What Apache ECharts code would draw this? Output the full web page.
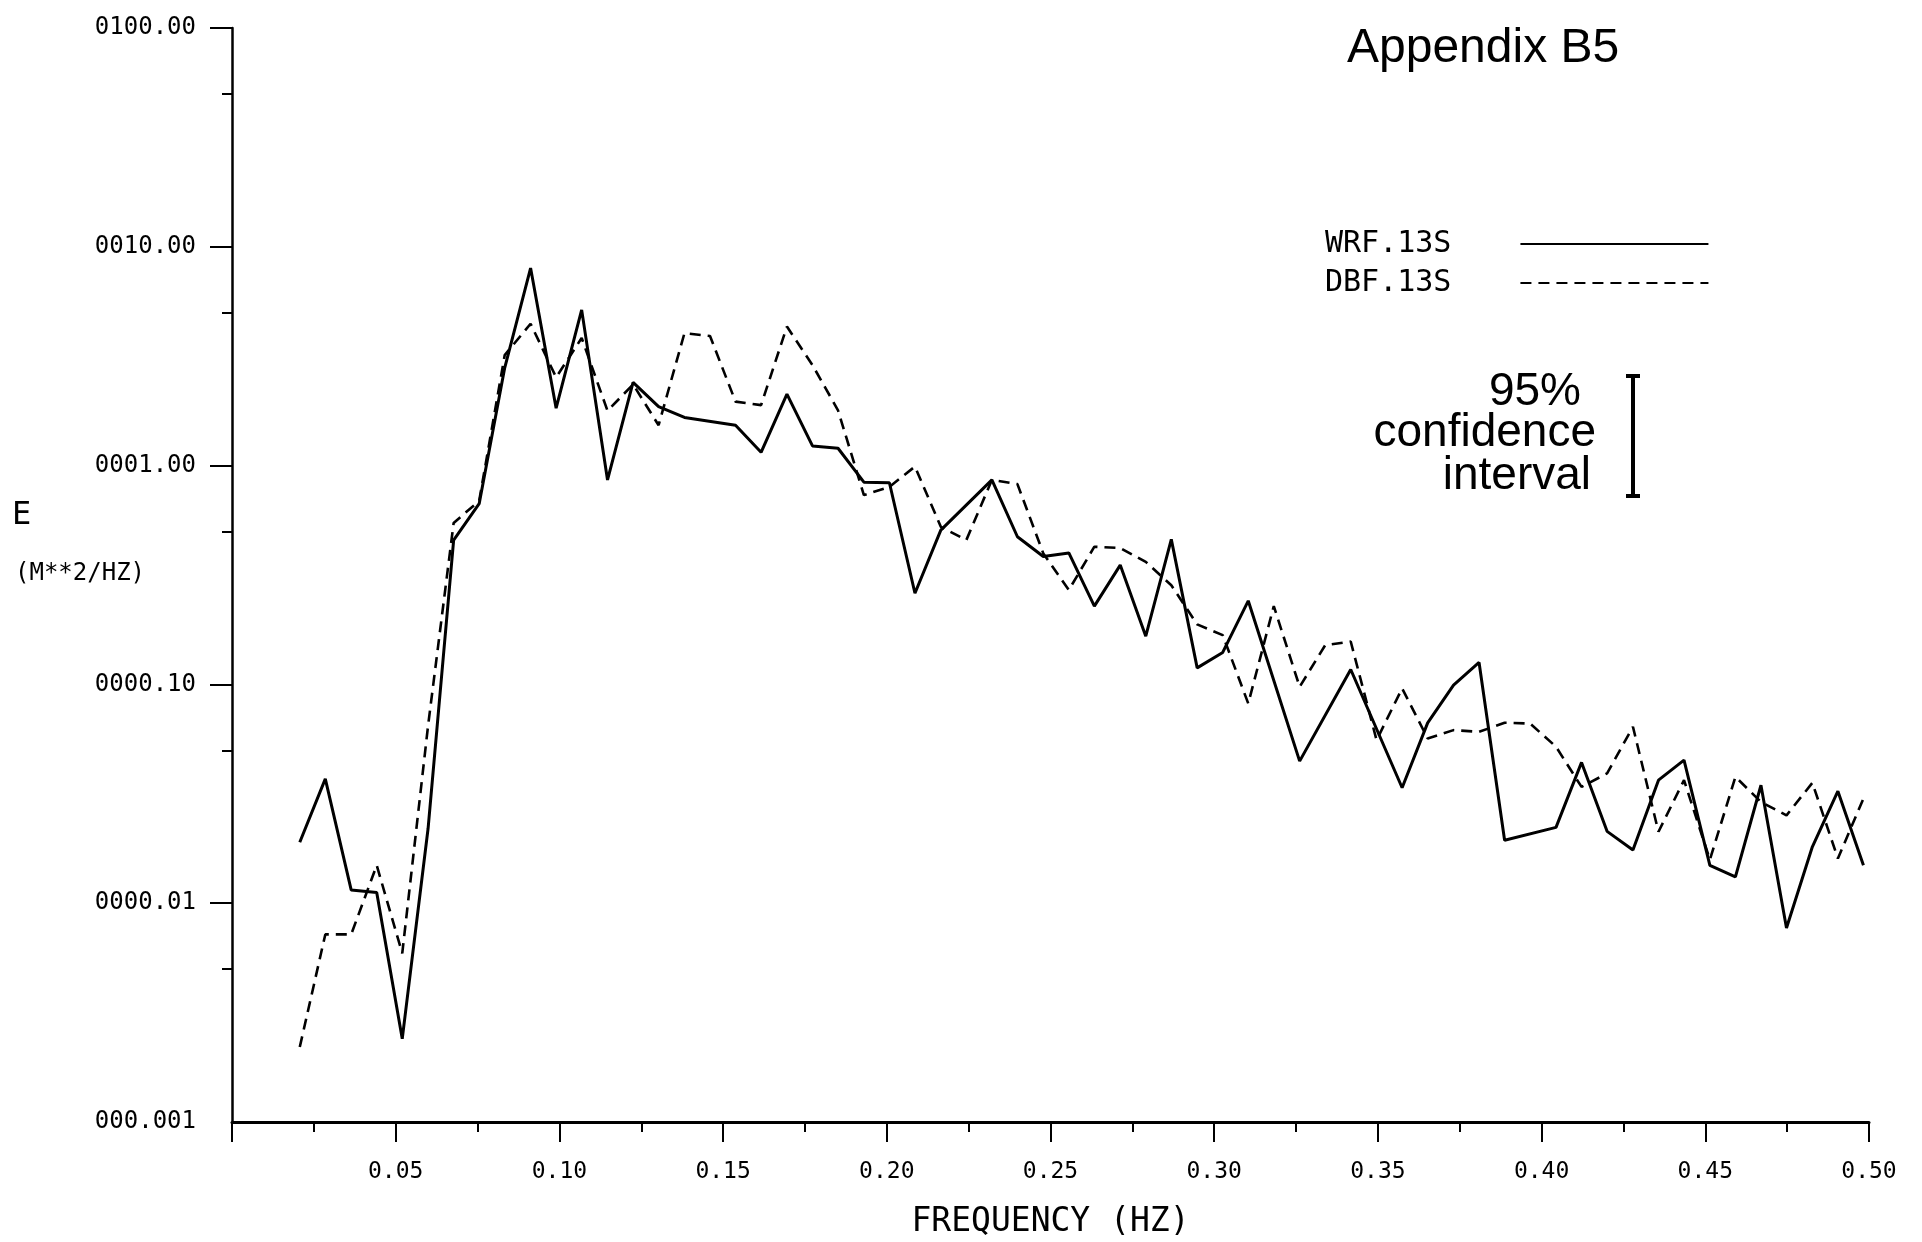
<!DOCTYPE html>
<html><head><meta charset="utf-8">
<script src="https://cdn.jsdelivr.net/npm/echarts@6/dist/echarts.min.js"></script>
<style>html,body{margin:0;padding:0;background:#fff}#c{width:1922px;height:1242px}</style>
</head><body><div id="c"></div>
<script>
// Frequencies (Hz) of the spectral estimates
const freqs = [0.0207,0.0285,0.0364,0.0442,0.0520,0.0599,0.0677,0.0755,0.0833,0.0912,
0.0990,0.1068,0.1147,0.1225,0.1303,0.1382,0.1460,0.1538,0.1616,0.1695,
0.1773,0.1851,0.1930,0.2008,0.2086,0.2165,0.2243,0.2321,0.2399,0.2478,
0.2556,0.2634,0.2713,0.2791,0.2869,0.2948,0.3026,0.3104,0.3182,0.3261,
0.3339,0.3417,0.3496,0.3574,0.3652,0.3731,0.3809,0.3887,0.3965,0.4044,
0.4122,0.4200,0.4279,0.4357,0.4435,0.4514,0.4592,0.4670,0.4748,0.4827,
0.4905,0.4983];
// WRF.13S spectral density (M**2/HZ); null = no visible vertex
const wrf13s = [0.019,0.037,0.0115,0.0112,0.0024,0.022,0.456,0.67,2.8,8.0,
1.83,5.15,0.86,2.4,1.86,1.66,null,1.53,1.15,2.12,
1.23,1.2,0.84,0.835,0.261,0.507,null,0.86,0.473,0.384,
0.399,0.228,0.351,0.166,0.46,0.119,0.14,0.241,null,0.0446,
null,0.117,null,0.0337,0.0667,0.0993,0.126,0.0194,null,0.0222,
0.044,0.0213,0.0175,0.0365,0.0451,0.0149,0.0132,0.0346,0.0077,0.0181,
0.0325,0.0149];
// DBF.13S spectral density (M**2/HZ)
const dbf13s = [0.0022,0.0072,0.0072,0.0149,0.0059,0.065,0.547,0.69,3.2,4.45,
2.53,3.83,1.78,2.35,1.53,4.03,3.91,1.96,1.89,4.32,
2.88,1.79,0.733,0.80,0.99,0.525,0.457,0.86,0.823,0.397,
0.270,0.426,0.42,0.363,0.284,0.188,0.168,0.0818,0.228,0.0975,
0.151,0.157,0.0556,0.0959,0.0566,0.0618,0.0607,0.0668,0.0662,0.0519,
0.034,0.0392,0.064,0.0212,0.0365,0.0158,0.0378,0.029,0.0252,0.0355,
0.016,0.0301];
const seriesNames = ['WRF.13S','DBF.13S'];
const xTickValues = [0.05,0.10,0.15,0.20,0.25,0.30,0.35,0.40,0.45,0.50];
const xTickLabels = ['0.05','0.10','0.15','0.20','0.25','0.30','0.35','0.40','0.45','0.50'];
const yTickExps = [-3,-2,-1,0,1,2];
const yTickLabels = ['000.001','0000.01','0000.10','0001.00','0010.00','0100.00'];
const yMajorTicks = [0.01,0.1,1,10,100];
const yMinorTicks = [0.005,0.05,0.5,5,50];

const mono = '"DejaVu Sans Mono", monospace';
const helv = '"Liberation Sans", Arial, sans-serif';

function xLabel(v){
  for (let i=0;i<xTickValues.length;i++) if (Math.abs(v-xTickValues[i])<1e-6) return xTickLabels[i];
  return '';
}
function yLabel(v){
  const e = Math.round(Math.log10(v));
  const i = yTickExps.indexOf(e);
  return i>=0 ? yTickLabels[i] : '';
}
const toPairs = arr => freqs.map((f,i)=>[f, arr[i]===null ? '-' : arr[i]]);

const chart = echarts.init(document.getElementById('c'), null, {renderer:'canvas'});
chart.setOption({
  animation:false,
  backgroundColor:'#fff',
  title:{text:'Appendix B5', left:1347, top:25, padding:0,
    textStyle:{fontFamily:helv, fontSize:48, fontWeight:'normal', color:'#000'}},
  legend:{
    left:1325, top:229, orient:'vertical', align:'right', padding:0,
    itemWidth:188, itemHeight:14, itemGap:9, selectedMode:false,
    itemStyle:{opacity:0},
    textStyle:{fontFamily:mono, fontSize:30, color:'#000', padding:[0,64,0,0]},
    data:seriesNames
  },
  grid:{left:232, right:53, top:28, bottom:120, outerBoundsMode:'none'},
  xAxis:{
    type:'value', min:0, max:0.5, interval:0.05,
    axisLine:{show:true, lineStyle:{color:'#000', width:3}},
    axisTick:{show:true, length:20, lineStyle:{color:'#000', width:2}},
    minorTick:{show:true, splitNumber:2, length:10, lineStyle:{color:'#000', width:2}},
    splitLine:{show:false}, minorSplitLine:{show:false},
    axisLabel:{margin:39, fontFamily:mono, fontSize:23, color:'#000', formatter:xLabel},
    name:'FREQUENCY (HZ)', nameLocation:'middle', nameGap:84,
    nameTextStyle:{fontFamily:mono, fontSize:33, color:'#000'}
  },
  yAxis:[{
    type:'log', logBase:10, min:0.001, max:100, position:'left',
    axisLine:{show:true, lineStyle:{color:'#000', width:2.5}},
    axisTick:{show:true, length:22, lineStyle:{color:'#000', width:2}, customValues:yMajorTicks},
    axisLabel:{show:true, margin:36, fontFamily:mono, fontSize:24, color:'#000', verticalAlign:'middle', padding:[0,0,8,0], formatter:yLabel},
    splitLine:{show:false}
  },{
    type:'log', logBase:10, min:0.001, max:100, position:'left', offset:0,
    axisLine:{show:false},
    axisTick:{show:true, length:10, lineStyle:{color:'#000', width:2}, customValues:yMinorTicks},
    axisLabel:{show:false},
    splitLine:{show:false}
  }],
  series:[{
    name:seriesNames[0], type:'line', yAxisIndex:0, data:toPairs(wrf13s),
    symbol:'none', showSymbol:false, connectNulls:true,
    lineStyle:{color:'#000', width:3, type:'solid'}, itemStyle:{color:'#000'}, z:3
  },{
    name:seriesNames[1], type:'line', yAxisIndex:0, data:toPairs(dbf13s),
    symbol:'none', showSymbol:false, connectNulls:true,
    lineStyle:{color:'#000', width:2.6, type:[11,7]}, itemStyle:{color:'#000'}, z:2
  }],
  graphic:[
    {type:'text', left:12, top:500, style:{text:'E', fontFamily:mono, fontSize:32, fill:'#000'}},
    {type:'text', left:15, top:562, style:{text:'(M**2/HZ)', fontFamily:mono, fontSize:24, fill:'#000'}},
    {type:'text', x:1581, y:392, style:{text:'95%', align:'right', verticalAlign:'middle', fontFamily:helv, fontSize:46, fill:'#000'}},
    {type:'text', x:1596, y:433, style:{text:'confidence', align:'right', verticalAlign:'middle', fontFamily:helv, fontSize:46, fill:'#000'}},
    {type:'text', x:1591, y:476, style:{text:'interval', align:'right', verticalAlign:'middle', fontFamily:helv, fontSize:46, fill:'#000'}},
    {type:'line', shape:{x1:1633, y1:376, x2:1633, y2:496}, style:{stroke:'#000', lineWidth:4}},
    {type:'line', shape:{x1:1626, y1:376, x2:1640, y2:376}, style:{stroke:'#000', lineWidth:4}},
    {type:'line', shape:{x1:1626, y1:496, x2:1640, y2:496}, style:{stroke:'#000', lineWidth:4}}
  ]
});
</script></body></html>
